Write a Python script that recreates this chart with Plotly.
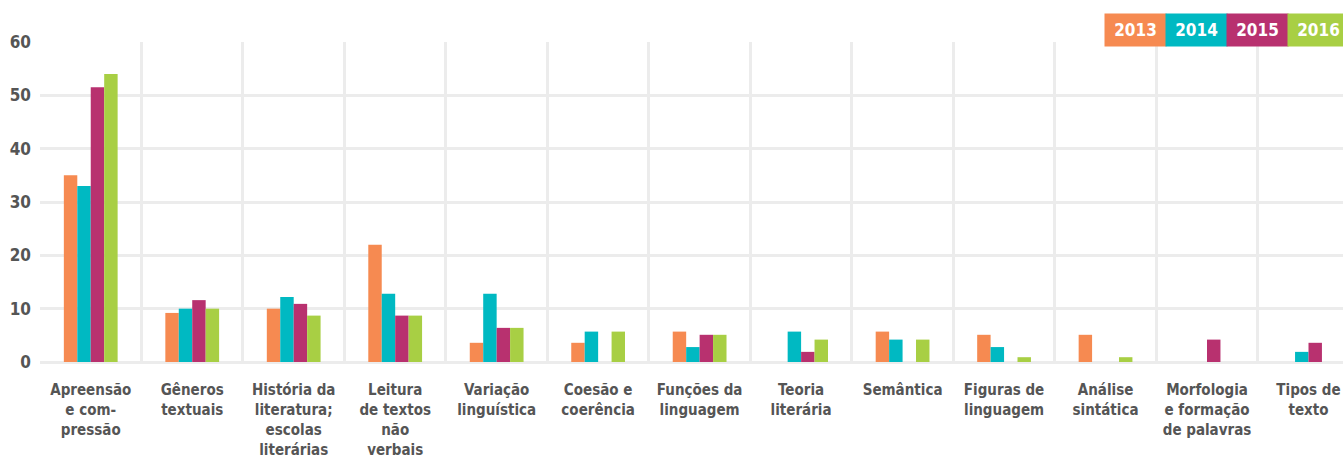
import plotly.graph_objects as go

category_lines = [
    ["Apreensão", "e com-", "pressão"],
    ["Gêneros", "textuais"],
    ["História da", "literatura;", "escolas", "literárias"],
    ["Leitura", "de textos", "não", "verbais"],
    ["Variação", "linguística"],
    ["Coesão e", "coerência"],
    ["Funções da", "linguagem"],
    ["Teoria", "literária"],
    ["Semântica"],
    ["Figuras de", "linguagem"],
    ["Análise", "sintática"],
    ["Morfologia", "e formação", "de palavras"],
    ["Tipos de", "texto"],
]

years = ["2013", "2014", "2015", "2016"]

values_2013 = [35.0, 9.2, 10.0, 22.0, 3.6, 3.6, 5.7, 0.0, 5.7, 5.1, 5.1, 0.0, 0.0]
values_2014 = [33.0, 10.0, 12.2, 12.8, 12.8, 5.7, 2.8, 5.7, 4.2, 2.8, 0.0, 0.0, 1.9]
values_2015 = [51.5, 11.6, 10.9, 8.7, 6.4, 0.0, 5.1, 1.9, 0.0, 0.0, 0.0, 4.2, 3.6]
values_2016 = [54.0, 10.0, 8.7, 8.7, 6.4, 5.7, 5.1, 4.2, 4.2, 0.9, 0.9, 0.0, 0.0]

colors = ["#F68A51", "#00B9C2", "#B8316F", "#A8CF44"]
series = [values_2013, values_2014, values_2015, values_2016]

FONT = "DejaVu Sans Condensed, Liberation Sans Narrow, Arial Narrow, sans-serif"
TEXT_COLOR = "#555555"
GRID = "#ECECEC"

# category labels: glyph size set per line, line pitch set by the axis font size
LABEL_PX = 15
categories = [
    "<br>".join(f'<span style="font-size:{LABEL_PX}px">{ln}</span>' for ln in lines)
    for lines in category_lines
]

fig = go.Figure()
for year, vals, col in zip(years, series, colors):
    fig.add_trace(go.Bar(
        x=categories, y=vals, name=year,
        marker=dict(color=col, line=dict(width=0)),
        showlegend=False,
    ))

# year key: coloured boxes with the year printed inside
key_x = [0.8404, 0.8872, 0.9343, 0.9812]
for year, col, kx in zip(years, colors, key_x):
    fig.add_annotation(
        x=kx, y=1.0375, xref="paper", yref="paper",
        xanchor="center", yanchor="middle",
        text=f"<b>{year}</b>", showarrow=False,
        bgcolor=col, width=61, height=32, borderpad=0,
        font=dict(family=FONT, size=17, color="white"),
    )

fig.update_layout(
    width=1343, height=459,
    margin=dict(l=40, r=0, t=42, b=97),
    paper_bgcolor="white", plot_bgcolor="white",
    barmode="group", bargap=0.47, bargroupgap=0,
    font=dict(family=FONT, color=TEXT_COLOR),
    xaxis=dict(
        type="category", range=[-0.5, 12.34],
        tickson="boundaries", showgrid=True, gridcolor=GRID, gridwidth=3,
        ticks="", showline=False, zeroline=False,
        tickfont=dict(family=FONT, size=15.6, color=TEXT_COLOR, weight="bold"),
        tickangle=0, automargin=False, ticklabelstandoff=16,
    ),
    yaxis=dict(
        range=[0, 60], tickvals=[0, 10, 20, 30, 40, 50, 60],
        showgrid=True, gridcolor=GRID, gridwidth=3,
        zeroline=True, zerolinecolor=GRID, zerolinewidth=3,
        showline=False, ticks="",
        tickfont=dict(family=FONT, size=17, color=TEXT_COLOR, weight="bold"),
        automargin=False, ticklabelstandoff=8,
    ),
)

fig.write_html("out.html")
